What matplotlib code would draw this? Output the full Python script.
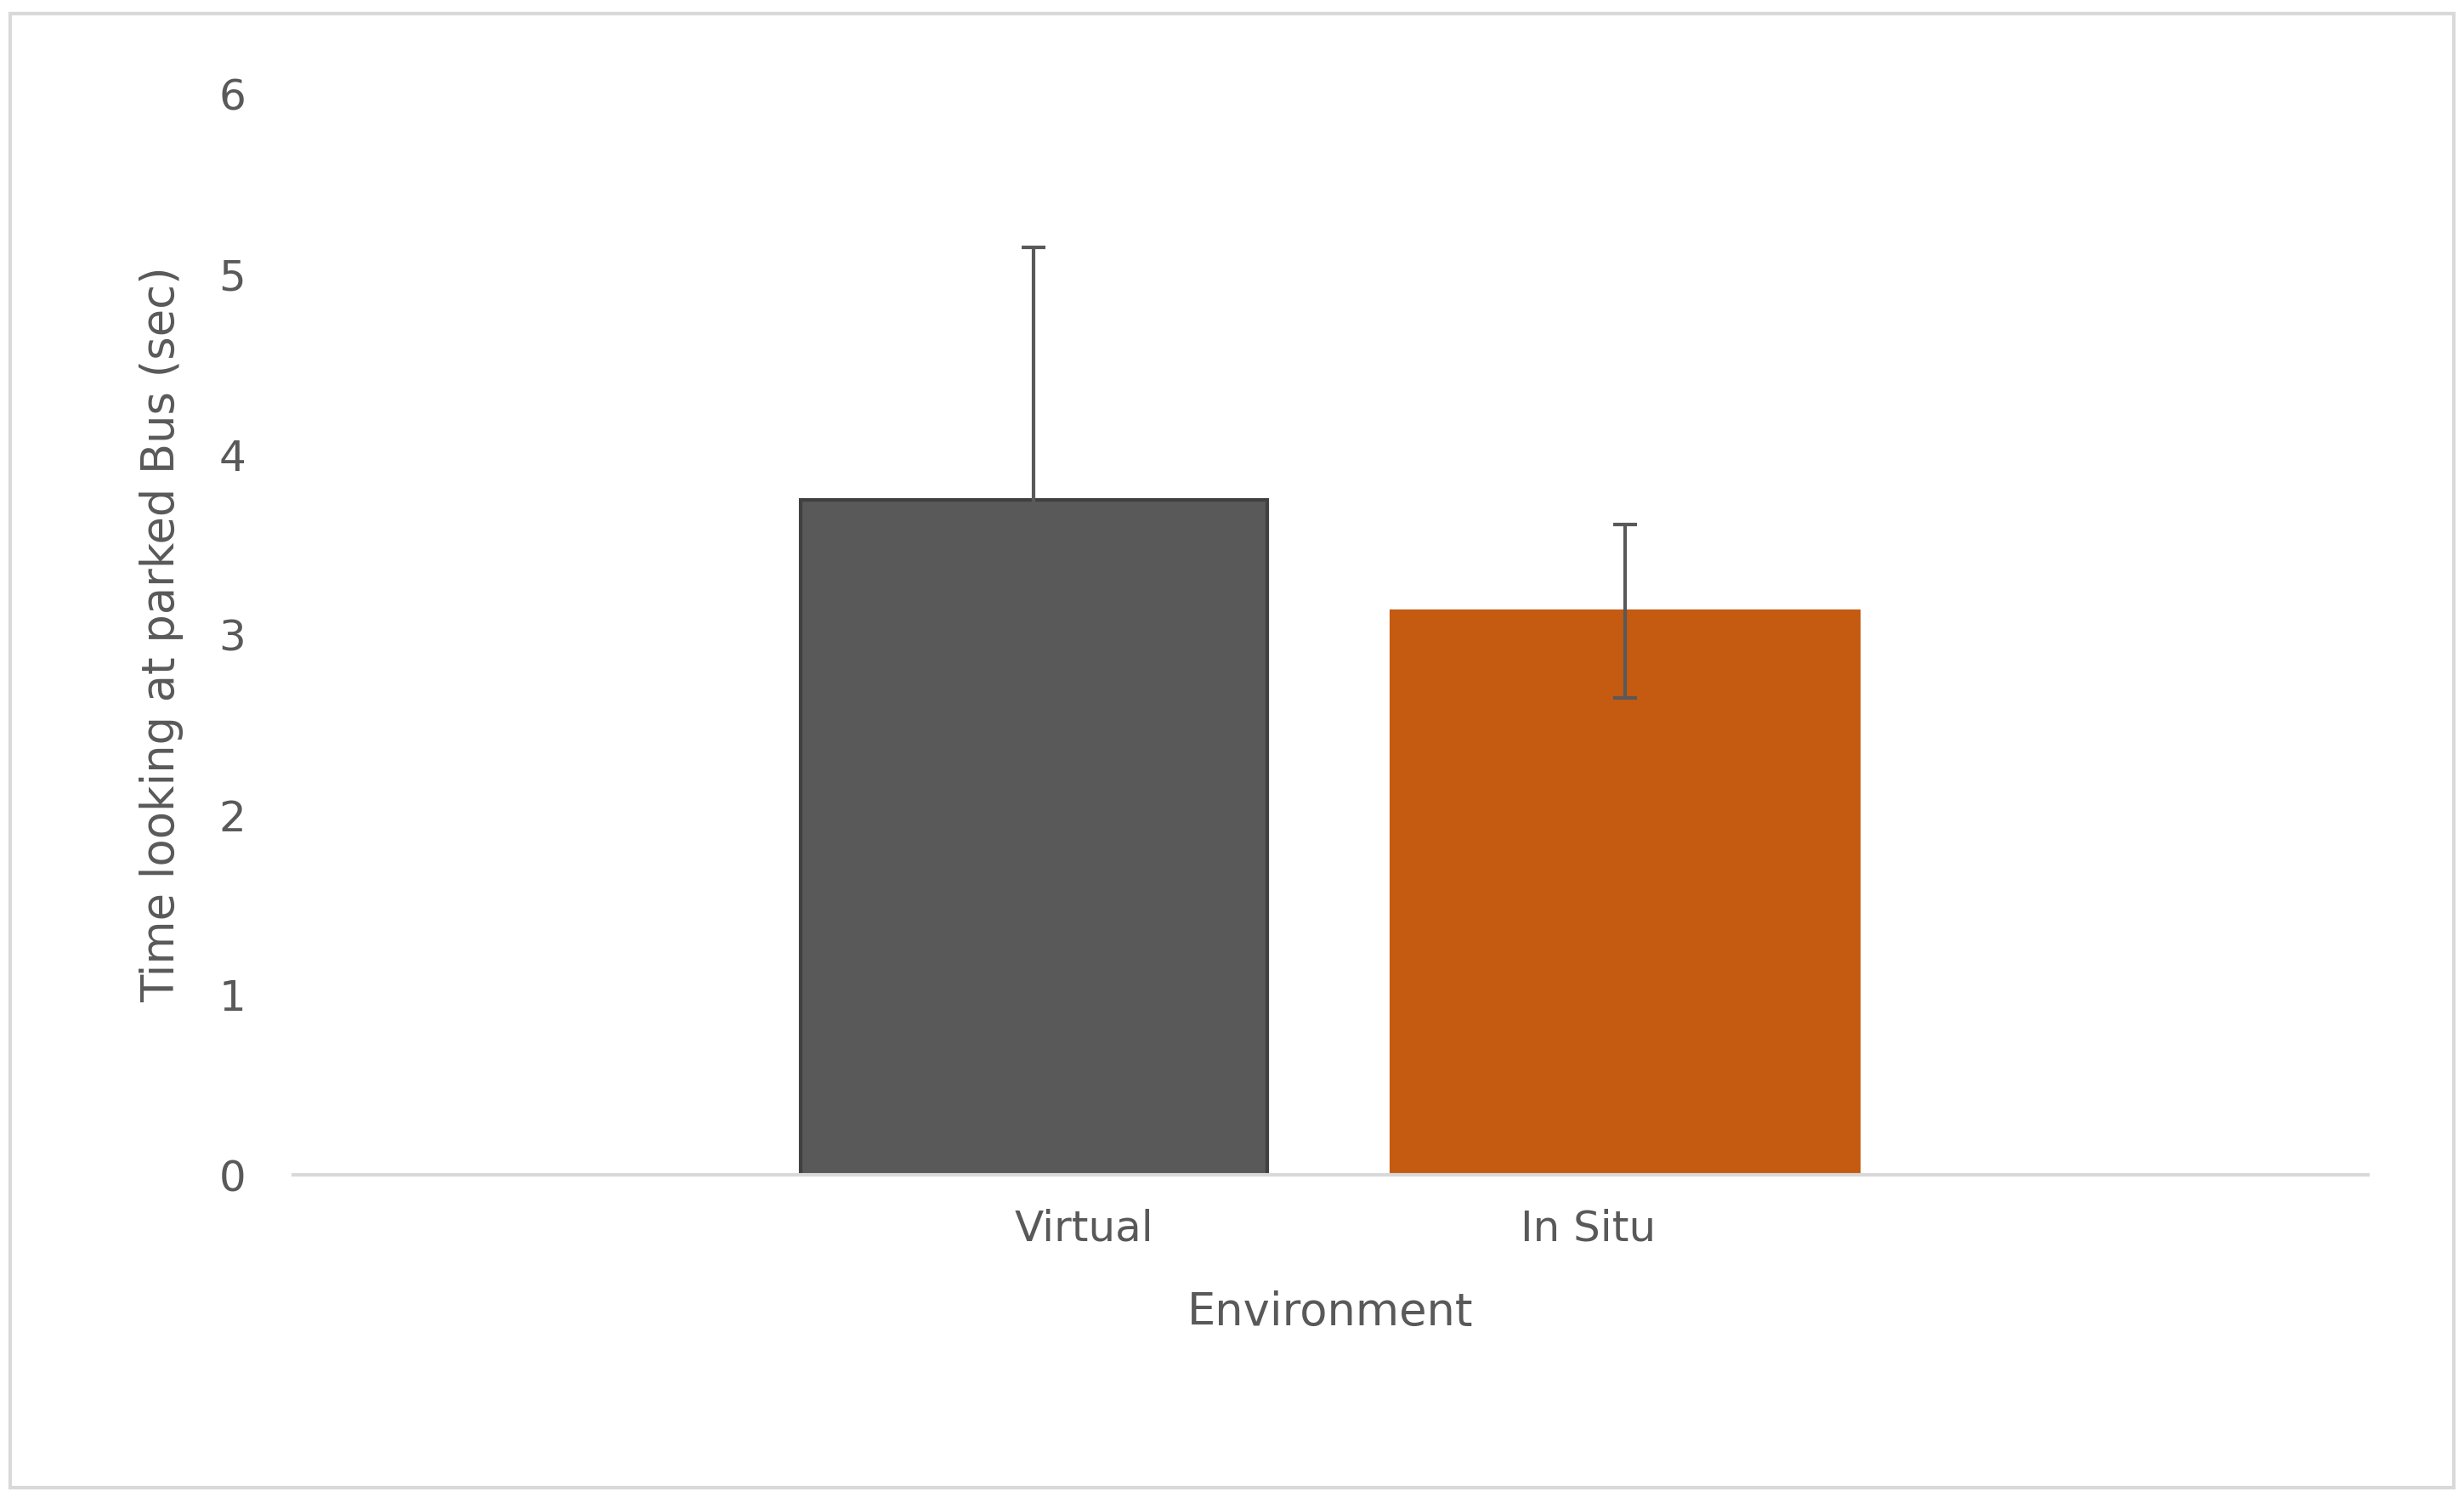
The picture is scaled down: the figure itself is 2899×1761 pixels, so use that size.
import matplotlib
matplotlib.use("Agg")
import matplotlib.pyplot as plt
from matplotlib.patches import Rectangle

categories = ["Virtual", "In Situ"]
values = [3.75, 3.13]
errors = [1.40, 0.48]
colors = ["#595959", "#C55A11"]

fig = plt.figure(figsize=(28.99, 17.61), dpi=100)
fig.patches.append(Rectangle((0.004, 0.006), 0.992, 0.985, transform=fig.transFigure,
                             fill=False, edgecolor="#D9D9D9", linewidth=3))
ax = fig.add_axes([0.119, 0.215, 0.842, 0.722])
pos = [0.357, 0.642]
ax.bar(pos, values, width=0.225, color=colors, edgecolor=["#404040", "#C55A11"], linewidth=3,
       yerr=errors, error_kw=dict(ecolor="#595959", elinewidth=3, capsize=10, capthick=3))
ax.set_xlim(0, 1)
ax.set_ylim(0, 6)
ax.set_xticks([0.381, 0.624])
ax.set_xticklabels(categories)
ax.tick_params(axis="both", length=0, labelsize=36, labelcolor="#595959", pad=28)
ax.tick_params(axis="y", pad=40)
for s in ["top", "right", "left"]:
    ax.spines[s].set_visible(False)
ax.spines["bottom"].set_color("#D9D9D9")
ax.spines["bottom"].set_linewidth(3)
ax.set_xlabel("Environment", fontsize=38, color="#595959", labelpad=35)
ax.set_ylabel("Time looking at parked Bus (sec)", fontsize=38, color="#595959", labelpad=30)
fig.savefig("out.png", dpi=100)
